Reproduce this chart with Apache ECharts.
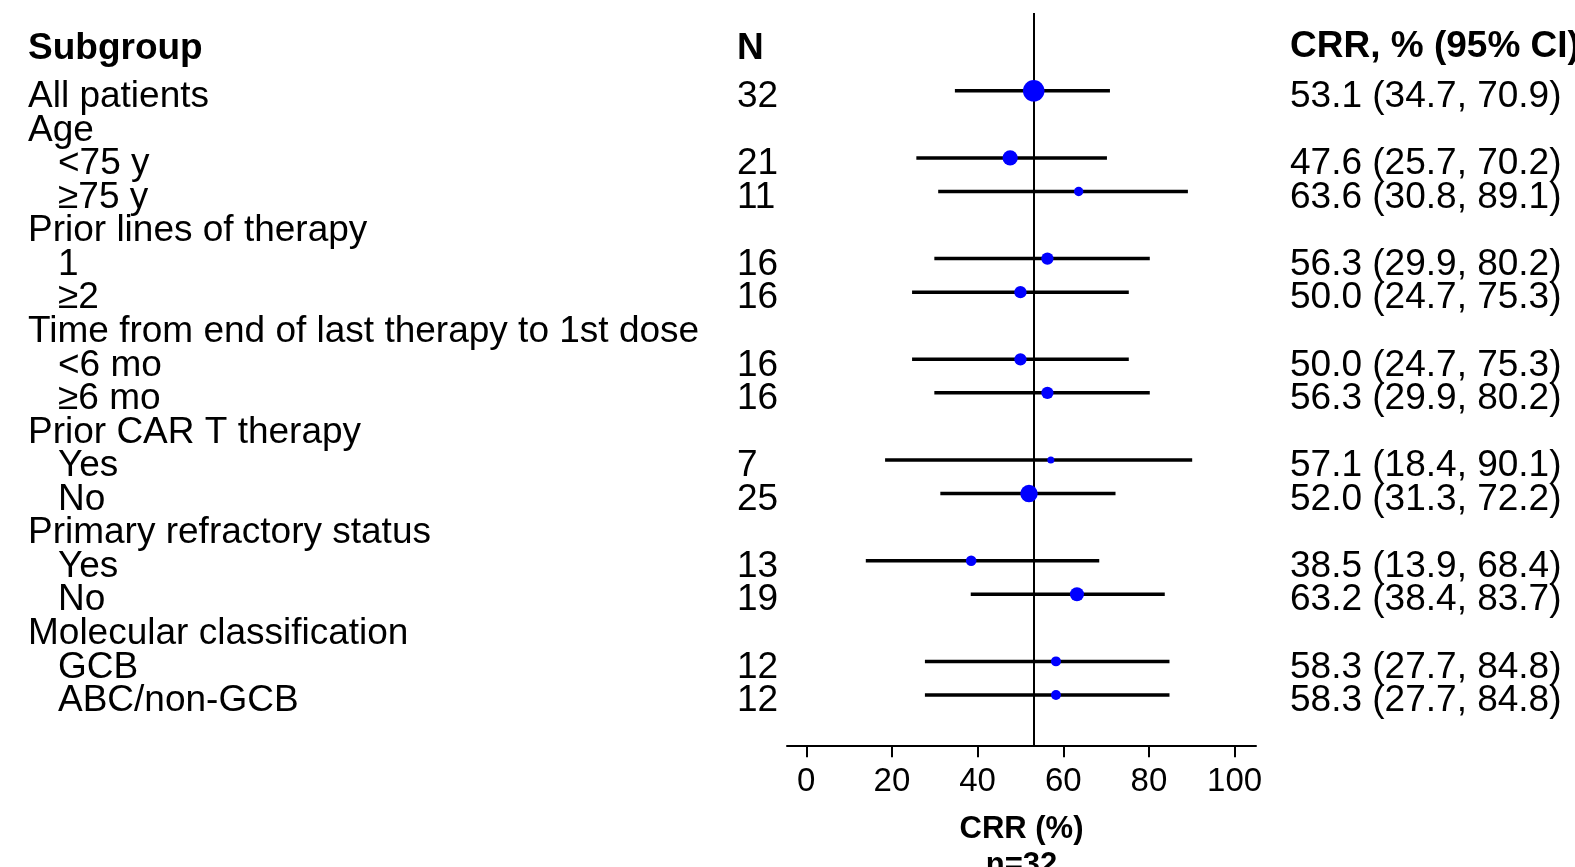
<!DOCTYPE html>
<html>
<head>
<meta charset="utf-8">
<script src="https://cdn.jsdelivr.net/npm/echarts@6/dist/echarts.min.js"></script>
<style>
html,body{margin:0;padding:0;background:#fff;}
#chart{width:1575px;height:867px;}
</style>
</head>
<body>
<div id="chart"></div>
<script>
// ---- data ----
const subgroups = ['All patients','Age','<75 y','\u226575 y','Prior lines of therapy','1','\u22652',
  'Time from end of last therapy to 1st dose','<6 mo','\u22656 mo','Prior CAR T therapy','Yes','No',
  'Primary refractory status','Yes','No','Molecular classification','GCB','ABC/non-GCB'];
const nValues = [32,null,21,11,null,16,16,null,16,16,null,7,25,null,13,19,null,12,12];
const crrValues = [53.1,null,47.6,63.6,null,56.3,50.0,null,50.0,56.3,null,57.1,52.0,null,38.5,63.2,null,58.3,58.3];
const ciLow = [34.7,null,25.7,30.8,null,29.9,24.7,null,24.7,29.9,null,18.4,31.3,null,13.9,38.4,null,27.7,27.7];
const ciHigh = [70.9,null,70.2,89.1,null,80.2,75.3,null,75.3,80.2,null,90.1,72.2,null,68.4,83.7,null,84.8,84.8];
const indented = [false,false,true,true,false,true,true,false,true,true,false,true,true,false,true,true,false,true,true];
const xTicks = [0,20,40,60,80,100];
const overallCRR = 53.1;
const headers = ['Subgroup','N','CRR, % (95% CI)'];
const axisTitle = 'CRR (%)';
const nTotalLabel = 'n=32';

// ---- build ----
const FONT = '"Liberation Sans", Arial, Helvetica, sans-serif';
const cats = subgroups.concat(['']);
const scatterData = [], barData = [];
crrValues.forEach((v, i) => {
  if (v == null) return;
  scatterData.push([v, i, nValues[i]]);
  barData.push([ciLow[i], i, ciHigh[i]]);
});
const crrText = crrValues.map((v, i) => v == null ? '' :
  v.toFixed(1) + ' (' + ciLow[i].toFixed(1) + ', ' + ciHigh[i].toFixed(1) + ')');

const GL = 787, GR = 319, GT = 74, GB = 121.7;
const bodySize = 37;
const txt = { fontSize: bodySize, color: '#000', fontFamily: FONT, padding: [12, 0, 0, 0] };

const chart = echarts.init(document.getElementById('chart'));
chart.setOption({
  backgroundColor: '#ffffff',
  animation: false,
  textStyle: { fontFamily: FONT, color: '#000' },
  grid: [
    { left: GL, right: GR, top: GT, bottom: GB, outerBoundsMode: 'none', containLabel: false },
    { left: GL, right: GR, top: 13, bottom: GB, outerBoundsMode: 'none', containLabel: false }
  ],
  xAxis: [
    {
      type: 'value', gridIndex: 0, min: -4.5, max: 105,
      axisLine: { show: true, lineStyle: { color: '#000', width: 2 } },
      axisTick: { show: true, customValues: xTicks, length: 12, lineStyle: { color: '#000', width: 2 } },
      axisLabel: { show: true, customValues: xTicks, fontSize: 33, color: '#000', margin: 20, fontFamily: FONT },
      splitLine: { show: false },
      name: axisTitle + '\n' + nTotalLabel,
      nameLocation: 'middle', nameGap: 66,
      nameTextStyle: { fontSize: 31, fontWeight: 'bold', color: '#000', lineHeight: 36, fontFamily: FONT }
    },
    { type: 'value', gridIndex: 1, min: -4.5, max: 105, show: false }
  ],
  yAxis: [
    {
      type: 'category', gridIndex: 0, inverse: true, data: cats, position: 'left',
      axisLine: { show: false }, axisTick: { show: false }, splitLine: { show: false },
      axisLabel: {
        show: true, align: 'left', margin: GL - 28, interval: 0,
        formatter: (v, i) => i >= subgroups.length ? '' : (indented[i] ? '{i|' + v + '}' : '{t|' + v + '}'),
        rich: {
          t: txt,
          i: Object.assign({}, txt, { padding: [12, 0, 0, 30] })
        }
      }
    },
    {
      type: 'category', gridIndex: 0, inverse: true, data: cats, position: 'left',
      axisLine: { show: false }, axisTick: { show: false }, splitLine: { show: false },
      axisLabel: {
        show: true, align: 'left', margin: GL - 737, interval: 0,
        formatter: (v, i) => (i < nValues.length && nValues[i] != null) ? '{t|' + nValues[i] + '}' : '',
        rich: { t: txt }
      }
    },
    {
      type: 'category', gridIndex: 0, inverse: true, data: cats, position: 'right',
      axisLine: { show: false }, axisTick: { show: false }, splitLine: { show: false },
      axisLabel: {
        show: true, align: 'left', margin: 1290 - (1575 - GR), interval: 0,
        formatter: (v, i) => (i < crrText.length && crrText[i]) ? '{t|' + crrText[i] + '}' : '',
        rich: { t: txt }
      }
    },
    { type: 'value', gridIndex: 1, min: 0, max: 1, show: false }
  ],
  graphic: [
    { type: 'text', left: 28, top: 30, style: { text: headers[0], font: 'bold 37px ' + FONT, fill: '#000' } },
    { type: 'text', left: 737, top: 30, style: { text: headers[1], font: 'bold 37px ' + FONT, fill: '#000' } },
    { type: 'text', left: 1290, top: 28, style: { text: headers[2], font: 'bold 37px ' + FONT, fill: '#000' } }
  ],
  series: [
    {
      type: 'line', xAxisIndex: 1, yAxisIndex: 3, data: [], symbol: 'none', silent: true, z: 1,
      markLine: {
        silent: true, symbol: 'none', label: { show: false },
        lineStyle: { color: '#000', width: 2, type: 'solid' },
        data: [{ xAxis: overallCRR }]
      }
    },
    {
      type: 'custom', xAxisIndex: 0, yAxisIndex: 0, z: 3, silent: true,
      data: barData,
      encode: { x: [0, 2], y: 1 },
      renderItem: (params, api) => {
        const y = api.value(1);
        const p1 = api.coord([api.value(0), y]);
        const p2 = api.coord([api.value(2), y]);
        return { type: 'line', shape: { x1: p1[0], y1: p1[1], x2: p2[0], y2: p2[1] },
                 style: { stroke: '#000', lineWidth: 3.5 } };
      }
    },
    {
      type: 'scatter', xAxisIndex: 0, yAxisIndex: 0, z: 5, silent: true,
      data: scatterData,
      symbol: 'circle',
      symbolSize: (val) => 3 + 0.58 * val[2],
      itemStyle: { color: '#0000ff', opacity: 1 }
    }
  ]
});
</script>
</body>
</html>
